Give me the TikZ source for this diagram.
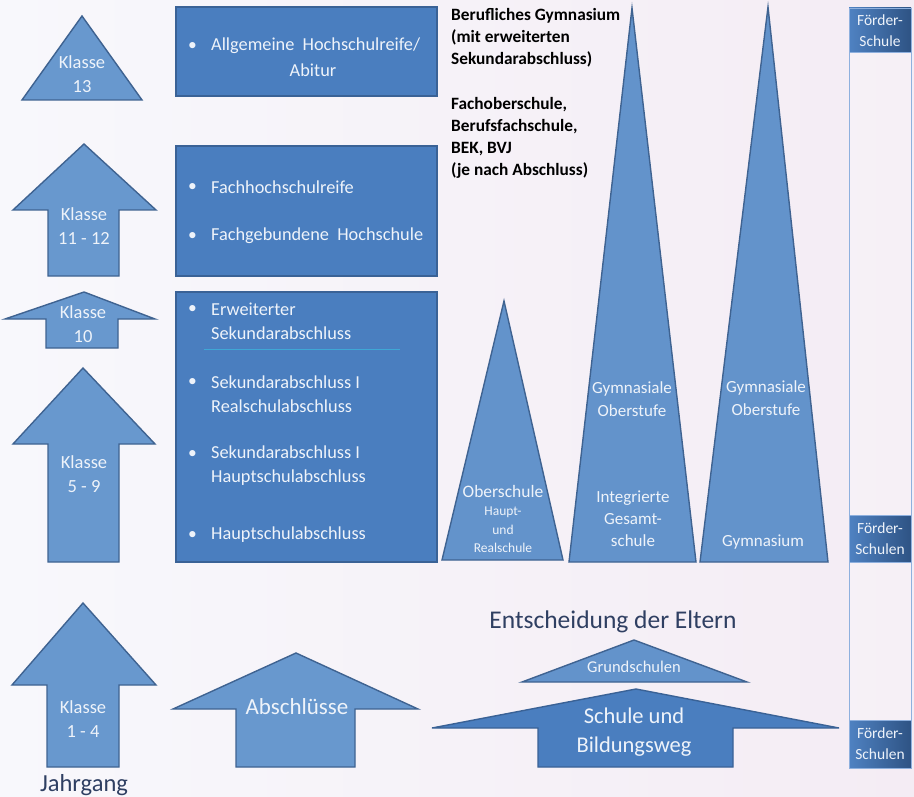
\documentclass[tikz,border=0pt]{standalone}
\usepackage{fontspec}
\setmainfont{Carlito}
\definecolor{bgL}{HTML}{F8F8FC}
\definecolor{bgR}{HTML}{F4ECF4}
\definecolor{boxfill}{HTML}{4A7EBF}
\definecolor{boxline}{HTML}{3A6296}
\definecolor{arrfill}{HTML}{6898CE}
\definecolor{arrline}{HTML}{3F6391}
\definecolor{trifill}{HTML}{6393CB}
\definecolor{wtext}{HTML}{EEF3FA}
\definecolor{dtext}{HTML}{2F3F62}
\definecolor{colline}{HTML}{8EB0DE}
\definecolor{hdrA}{HTML}{4F82C2}
\definecolor{hdrB}{HTML}{2E5384}
\definecolor{sepline}{HTML}{3FA7D6}
\begin{document}
\begin{tikzpicture}[x=1pt,y=-1pt,
  shapeA/.style={fill=arrfill,draw=arrline,line width=1.4pt,line join=miter},
  shapeT/.style={fill=trifill,draw=arrline,line width=1.4pt,line join=miter},
  shapeB/.style={fill=boxfill,draw=boxline,line width=1.6pt},
  wlabel/.style={text=wtext,align=center,inner sep=0pt},
  klasse/.style={wlabel,font=\fontsize{18.5}{24}\selectfont},
  bul/.style={text=wtext,anchor=west,inner sep=0pt,font=\fontsize{18.3}{24}\selectfont,align=left},
  dot/.style={text=wtext,anchor=west,inner sep=0pt,font=\fontsize{17.5}{24}\selectfont},
  boldtxt/.style={anchor=west,inner sep=0pt,align=left,font=\fontsize{17.3}{22}\selectfont\bfseries,text=black},
  hdr/.style={left color=hdrA,right color=hdrB,draw=colline,line width=0.8pt},
  hdrtxt/.style={wlabel,font=\fontsize{15.5}{21}\selectfont}
]
\useasboundingbox (0,0) rectangle (914,797);
\fill[left color=bgL,right color=bgR] (0,0) rectangle (914,797);

% ---- left column: Klasse arrows
\draw[shapeA] (82,16) -- (142,100) -- (22,100) -- cycle;
\node[klasse] (k13) at (82,74) {Klasse\\13};

\draw[shapeA] (84,144) -- (156,210) -- (119,210) -- (119,276) -- (48,276) -- (48,210) -- (13,210) -- cycle;
\node[klasse] (k11) at (84,226) {Klasse\\11 - 12};

\draw[shapeA] (84,292) -- (155,319) -- (118,319) -- (118,348) -- (46,348) -- (46,319) -- (5,319) -- cycle;
\node[klasse] (k10) at (83,324) {Klasse\\10};

\draw[shapeA] (83,368) -- (155,444) -- (119,444) -- (119,562) -- (48,562) -- (48,444) -- (13,444) -- cycle;
\node[klasse] (k5) at (84,474) {Klasse\\5 - 9};

\draw[shapeA] (83,603) -- (156,685) -- (119,685) -- (119,767) -- (47,767) -- (47,685) -- (12,685) -- cycle;
\node[klasse] (k1) at (83,719) {Klasse\\1 - 4};

\node[text=dtext,inner sep=0pt,font=\fontsize{24.5}{26}\selectfont] (jahr) at (84,785) {Jahrgang};

% ---- boxes
\draw[shapeB] (176,7) rectangle (437,96);
\node[dot] (b1d) at (188,46) {•};
\node[bul] (b1a) at (211,46) {Allgemeine\ \ Hochschulreife/};
\node[wlabel,font=\fontsize{18.3}{24}\selectfont] (b1b) at (313,70) {Abitur};

\draw[shapeB] (176,146) rectangle (437,276);
\node[dot] (b2d1) at (188,187) {•};
\node[bul] (b2a) at (211,187) {Fachhochschulreife};
\node[dot] (b2d2) at (188,236) {•};
\node[bul] (b2b) at (211,236) {Fachgebundene\ \ Hochschule};

\draw[shapeB] (176,292) rectangle (437,562);
\node[dot] (b3d1) at (188,309) {•};
\node[bul] (b3a) at (211,321) {Erweiterter\\Sekundarabschluss};
\coordinate (s1) at (204,349);
\coordinate (s2) at (400,349);
\draw[sepline,line width=0.7pt] (s1) -- (s2);
\node[dot] (b3d2) at (188,382) {•};
\node[bul] (b3b) at (211,394) {Sekundarabschluss I\\Realschulabschluss};
\node[dot] (b3d3) at (188,454) {•};
\node[bul] (b3c) at (211,466) {Sekundarabschluss I\\Hauptschulabschluss};
\node[dot] (b3d4) at (188,535) {•};
\node[bul] (b3e) at (211,535) {Hauptschulabschluss};

% ---- bold texts
\node[boldtxt] (bg) at (451,38) {Berufliches Gymnasium\\(mit erweiterten\\Sekundarabschluss)};
\node[boldtxt] (fo) at (451,138) {Fachoberschule,\\Berufsfachschule,\\BEK, BVJ\\(je nach Abschluss)};

% ---- triangles
\draw[shapeT] (504,301) -- (563,560) -- (442,560) -- cycle;
\node[wlabel,font=\fontsize{17.5}{20}\selectfont] (ob) at (503,491) {Oberschule};
\node[wlabel,font=\fontsize{13.5}{18.5}\selectfont] (hr) at (503,530) {Haupt-\\und\\Realschule};

\draw[shapeT] (632,8) -- (696,562) -- (569,562) -- cycle;
\node[wlabel,font=\fontsize{17}{23}\selectfont] (go1) at (632,399) {Gymnasiale\\Oberstufe};
\node[wlabel,font=\fontsize{17}{22}\selectfont] (ig) at (633,519) {Integrierte\\Gesamt-\\schule};

\draw[shapeT] (768,7) -- (828,562) -- (700,562) -- cycle;
\node[wlabel,font=\fontsize{17}{23}\selectfont] (go2) at (766,398) {Gymnasiale\\Oberstufe};
\node[wlabel,font=\fontsize{17}{20}\selectfont] (gy) at (763,542) {Gymnasium};

% ---- Förder column
\draw[colline,fill=white,fill opacity=0.25,line width=0.8pt] (849,8) rectangle (911,768);
\draw[hdr] (849,8) rectangle (911,52);
\node[hdrtxt] (f1) at (880,31) {Förder-\\Schule};
\draw[hdr] (849,515) rectangle (911,562);
\node[hdrtxt] (f2) at (880,539) {Förder-\\Schulen};
\draw[hdr] (849,720) rectangle (911,768);
\node[hdrtxt] (f3) at (880,744) {Förder-\\Schulen};

% ---- bottom
\node[text=dtext,inner sep=0pt,font=\fontsize{25.5}{28}\selectfont] (ent) at (613,622) {Entscheidung der Eltern};

\draw[shapeT] (634,640) -- (747,682) -- (522,682) -- cycle;
\node[wlabel,font=\fontsize{16.5}{20}\selectfont] (gs) at (634,667) {Grundschulen};

\draw[shapeB,line width=1.4pt] (636,689) -- (839,728) -- (733,728) -- (733,767) -- (538,767) -- (538,728) -- (432,728) -- cycle;
\node[wlabel,font=\fontsize{22.5}{29}\selectfont] (sb) at (634,732) {Schule und\\Bildungsweg};

\draw[shapeA] (296,653) -- (418,709) -- (355,709) -- (355,767) -- (236,767) -- (236,709) -- (173,709) -- cycle;
\node[wlabel,font=\fontsize{23}{24}\selectfont] (ab) at (297,707) {Abschlüsse};
\end{tikzpicture}
\end{document}
